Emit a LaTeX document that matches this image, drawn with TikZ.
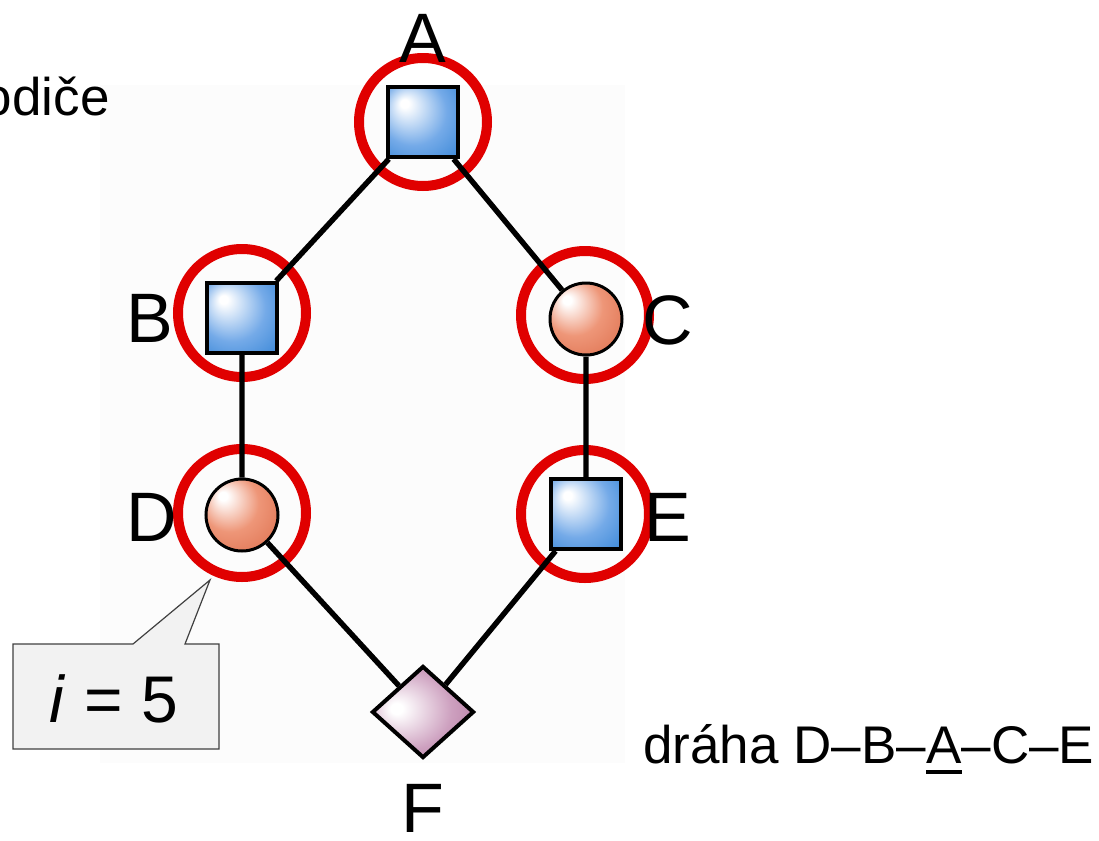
\documentclass[tikz,border=0pt]{standalone}
\usepackage{fontspec}
\setmainfont{Liberation Sans}
\usetikzlibrary{positioning,shapes,calc}

\definecolor{ringRed}{HTML}{E00000}
\definecolor{sqBlue}{HTML}{74AAE8}
\definecolor{sqBlueDark}{HTML}{1A74CE}
\definecolor{ballOrange}{HTML}{EE9678}
\definecolor{ballOrangeDark}{HTML}{D45A36}
\definecolor{diaPink}{HTML}{CDA0BF}
\definecolor{diaPinkDark}{HTML}{9E5486}
\definecolor{boxGray}{HTML}{F2F2F2}

\pgfdeclareradialshading{sqShade}{\pgfpoint{-14bp}{14bp}}{color(0bp)=(white); color(3bp)=(white); color(24bp)=(sqBlue); color(50bp)=(sqBlueDark)}
\pgfdeclareradialshading{ballShade}{\pgfpoint{-14bp}{14bp}}{color(0bp)=(white); color(3bp)=(white); color(20bp)=(ballOrange); color(50bp)=(ballOrangeDark)}
\pgfdeclareradialshading{diaShade}{\pgfpoint{-14bp}{2bp}}{color(0bp)=(white); color(3bp)=(white); color(22bp)=(diaPink); color(50bp)=(diaPinkDark)}

% underline with a heavier rule than \underline
\newcommand{\thickunder}[1]{\setbox0\hbox{#1}\rlap{\rule[-0.2em]{\wd0}{0.07em}}\box0}

\tikzset{every node/.style={align=center},
		ring/.style={circle,draw=ringRed,line width=5pt,minimum size=64pt,inner sep=0pt},
		sqVertex/.style={rectangle,draw=black,line width=2pt,minimum size=35pt,inner sep=0pt,shading=sqShade},
		ballVertex/.style={circle,draw=black,line width=1.5pt,minimum size=36pt,inner sep=0pt,shading=ballShade},
		diaVertex/.style={diamond,draw=black,line width=2pt,minimum width=51pt,minimum height=46pt,inner sep=0pt,shading=diaShade},
		link/.style={line width=2.7pt,black},
		letter/.style={font=\fontsize{35}{40}\selectfont},
		caption/.style={font=\fontsize{26.5}{30}\selectfont},
		callout/.style={draw=black!75,line width=0.6pt,fill=boxGray}}

\begin{document}
\begin{tikzpicture}[x=0.5pt,y=-0.5pt]
	\useasboundingbox (0,0) rectangle (1099,841);
	\fill[black!1] (100,85) rectangle (625,763);
	%rings
	\node [ring] (ringA) at (423,122) {};
	\node [ring] (ringB) at (242,313) {};
	\node [ring] (ringC) at (585,315) {};
	\node [ring] (ringD) at (242,513) {};
	\node [ring] (ringE) at (585,514) {};
	%vertices
	\node [sqVertex] (A) at (423,122) {};
	\node [sqVertex] (B) at (242,318) {};
	\node [ballVertex] (C) at (586,319) {};
	\node [ballVertex] (D) at (242,515) {};
	\node [sqVertex] (E) at (586,514) {};
	\node [diaVertex] (F) at (423,712) {};
	%edges
	\draw[link] (A) -- (B) -- (D) -- (F) -- (E) -- (C) -- (A);
	%names
	\node [letter] (labA) at (423,38) {A};
	\node [letter] (labB) at (150,318) {B};
	\node [letter] (labC) at (668,320) {C};
	\node [letter] (labD) at (152,517) {D};
	\node [letter] (labE) at (668,517) {E};
	\node [letter] (labF) at (423,808) {F};
	%texts
	\node [caption, anchor=base east, inner sep=0pt] (parents) at (110,115) {odiče};
	\node [caption, anchor=base west, inner sep=0pt] (path) at (643,763) {dráha D–B–\thickunder{A}–C–E};
	%callout
	\coordinate (tip) at (210,580);
	\draw[callout] (13,644) -- (133,644) -- (tip) -- (185,644) -- (219,644) -- (219,749) -- (13,749) -- cycle;
	\node [font=\fontsize{33}{36}\selectfont, anchor=base, inner sep=0pt] (iVal) at (114,722) {\textit{i} = 5};
\end{tikzpicture}
\end{document}
